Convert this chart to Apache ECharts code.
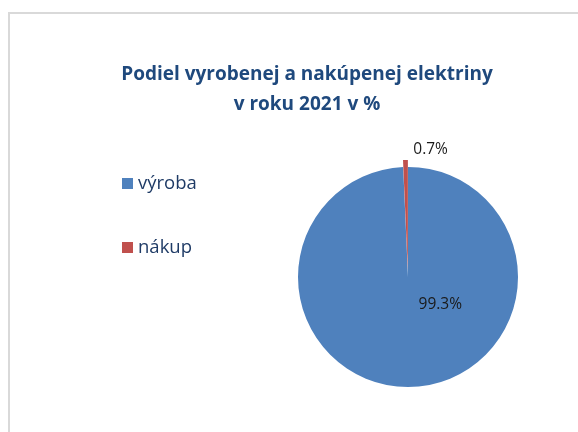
<!DOCTYPE html>
<html>
<head>
<meta charset="utf-8">
<script src="https://cdn.jsdelivr.net/npm/echarts@6/dist/echarts.min.js"></script>
<style>
  html, body { margin: 0; padding: 0; background: #fff; }
  #main { width: 578px; height: 432px; }
</style>
</head>
<body>
<div id="main"></div>
<script>
  // share of produced vs purchased electricity, 2021 (%)
  var categories = ['výroba', 'nákup'];
  var shares = [99.3, 0.7];
  var colors = ['#4F81BD', '#C0504D'];

  var chart = echarts.init(document.getElementById('main'));

  var pieData = categories.map(function (name, i) {
    return { name: name, value: shares[i], itemStyle: { color: colors[i] } };
  });
  // small slice is pulled out a bit
  pieData[1].selected = true;

  var option = {
    backgroundColor: '#fff',
    graphic: [{
      type: 'rect',
      shape: { x: 9, y: 13, width: 640, height: 480 },
      style: { fill: 'none', stroke: '#d9d9d9', lineWidth: 2 },
      silent: true
    }],
    title: {
      text: 'Podiel vyrobenej a nakúpenej elektriny\nv roku 2021 v %',
      left: 302,
      top: 55,
      textAlign: 'center',
      textStyle: {
        fontFamily: 'Open Sans',
        fontWeight: 'bold',
        fontSize: 19,
        lineHeight: 30,
        color: '#1F497D'
      }
    },
    legend: {
      orient: 'vertical',
      left: 117,
      top: 169,
      icon: 'rect',
      itemWidth: 11,
      itemHeight: 11,
      itemGap: 45,
      data: categories,
      textStyle: {
        fontFamily: 'Open Sans',
        fontSize: 18.5,
        color: '#1F3B66'
      }
    },
    series: [{
      type: 'pie',
      center: [408, 277],
      radius: 110,
      startAngle: 90,
      clockwise: true,
      selectedMode: 'single',
      selectedOffset: 7,
      avoidLabelOverlap: false,
      label: {
        position: 'inside',
        formatter: '{c}%',
        fontFamily: 'Open Sans',
        fontSize: 15.5,
        color: '#1a1a1a'
      },
      labelLine: { show: false },
      // nudge labels to where the original puts them
      labelLayout: function (p) {
        return p.dataIndex === 0 ? { dx: 31, dy: -30 } : { dx: 24, dy: -62 };
      },
      emphasis: { disabled: true },
      data: pieData
    }]
  };

  chart.setOption(option);
</script>
</body>
</html>
